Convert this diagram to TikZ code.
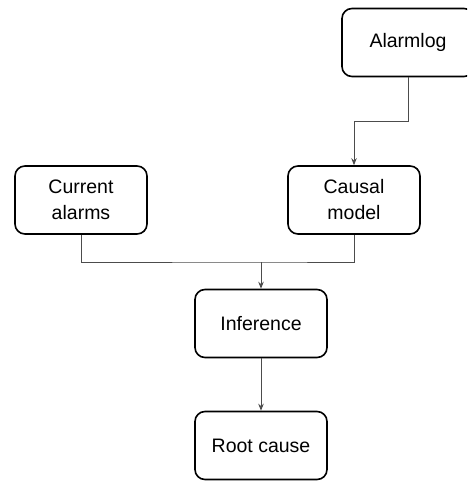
\documentclass[tikz,border=0pt]{standalone}
\usepackage{fontspec}
\setmainfont{Liberation Sans}
\usetikzlibrary{arrows.meta}
\begin{document}
\begin{tikzpicture}[x=1pt,y=-1pt,
  box/.style={draw=black,line width=1.6pt,rounded corners=10pt,minimum width=132pt,minimum height=68pt,align=center,inner sep=0pt,font=\fontsize{19.5}{26}\selectfont},
  conn/.style={draw=black!70,line width=0.9pt},
  arr/.style={conn,-{Stealth[length=7pt,width=5.5pt]}}]
\clip (0,0) rectangle (467,481);
\fill[white] (0,0) rectangle (467,481);
\node[box] (alarmlog) at (408,42.5) {Alarmlog};
\node[box] (current) at (81,200) {Current\\alarms};
\node[box] (causal) at (354,200) {Causal\\model};
\node[box] (inference) at (261,323.5) {Inference};
\node[box] (root) at (261,445.5) {Root cause};
\coordinate (j) at (261,262);
\coordinate (b) at (408,121);
\draw[arr] (alarmlog.south) -- (b) -| (causal.north);
\draw[conn] (current.south) |- (j) -| (causal.south);
\draw[arr] (j) -- (inference.north);
\draw[arr] (inference.south) -- (root.north);
\end{tikzpicture}
\end{document}
